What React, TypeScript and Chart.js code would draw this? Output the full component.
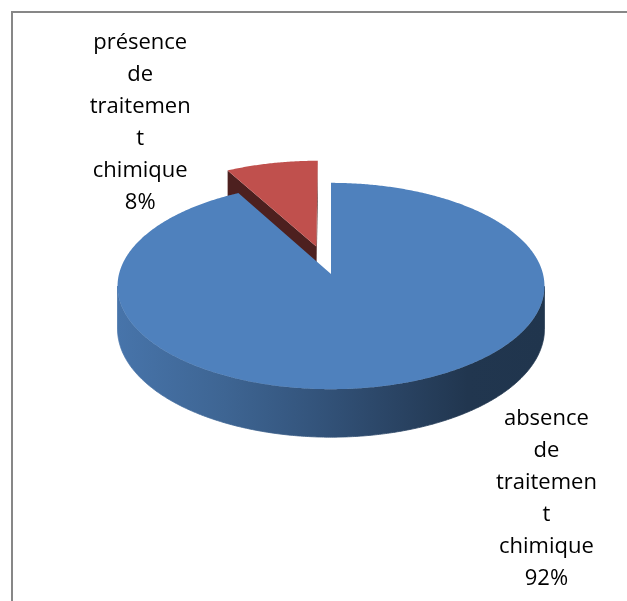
import React, { useEffect, useRef } from "react";
import { Chart, registerables } from "chart.js";

Chart.register(...registerables);

// ---- data ----
const categories = ["absence de traitement chimique", "présence de traitement chimique"];
const labelLines = [
  ["absence", "de", "traitemen", "t", "chimique"],
  ["présence", "de", "traitemen", "t", "chimique"],
];
const values = [92, 8];
const colors = ["#4f81bd", "#c0504d"];
const explode = [0, 244];

function shade(hex: string, f: number) {
  const n = parseInt(hex.slice(1), 16);
  const r = Math.round(((n >> 16) & 255) * f);
  const g = Math.round(((n >> 8) & 255) * f);
  const b = Math.round((n & 255) * f);
  return `rgb(${r},${g},${b})`;
}

const pie3d = {
  id: "pie3d",
  beforeDraw(chart: any) {
    const ctx = chart.ctx;
    ctx.save();
    ctx.fillStyle = "#878787";
    ctx.fillRect(11, 11, chart.width, 2);
    ctx.fillRect(11, 11, 2, chart.height);
    ctx.restore();
  },
  beforeDatasetsDraw(chart: any, _args: any, opts: any) {
    const meta = chart.getDatasetMeta(0);
    const arcs = meta.data;
    if (!arcs.length) return false;
    const ctx = chart.ctx;
    const cx = arcs[0].x, cy = arcs[0].y, R = arcs[0].outerRadius;
    const tilt = opts.tilt, c = opts.perspective, depth = opts.depth * R;
    const camV = R / c;
    const proj = (u: number, v: number, h: number) => {
      const w = 1 - (c * v) / R;
      return [cx + u / w, cy + (tilt * v + depth * h) / w];
    };
    const left = proj(-R * Math.sqrt(1 - c * c), c * R, 0)[0];
    const right = proj(R * Math.sqrt(1 - c * c), c * R, 0)[0];

    const slices = arcs.map((a: any, i: number) => {
      const mid = (a.startAngle + a.endAngle) / 2;
      const off = (a.options.offset || 0) / 4;
      return { a, i, mid, ox: Math.cos(mid) * off, oy: Math.sin(mid) * off };
    });
    slices.sort((p: any, q: any) => Math.sin(p.mid) - Math.sin(q.mid));

    ctx.save();
    for (const sl of slices) {
      const { a, i, ox, oy } = sl;
      const s = a.startAngle, e = a.endAngle;
      const base = colors[i];
      const n = Math.max(8, Math.ceil((e - s) / (Math.PI / 360)));
      const ang = (k: number) => s + ((e - s) * k) / n;
      const edge = (t: number, h: number) => proj(ox + R * Math.cos(t), oy + R * Math.sin(t), h);

      // outer wall
      const grad = ctx.createLinearGradient(left, 0, right, 0);
      const stops = opts.wallStops;
      const facs = opts.wallShades;
      stops.forEach((st: number, k: number) => grad.addColorStop(st, shade(base, facs[k])));
      let run: number[] = [];
      const flush = () => {
        if (run.length > 1) {
          ctx.beginPath();
          run.forEach((t, k) => {
            const p = edge(t, 0);
            k === 0 ? ctx.moveTo(p[0], p[1]) : ctx.lineTo(p[0], p[1]);
          });
          for (let k = run.length - 1; k >= 0; k--) {
            const p = edge(run[k], 1);
            ctx.lineTo(p[0], p[1]);
          }
          ctx.closePath();
          ctx.fillStyle = grad;
          ctx.fill();
          ctx.strokeStyle = grad;
          ctx.lineWidth = 0.8;
          ctx.stroke();
        }
        run = [];
      };
      for (let k = 0; k <= n; k++) {
        const t = ang(k);
        const px = ox + R * Math.cos(t), py = oy + R * Math.sin(t);
        const vis = -px * Math.cos(t) + (camV - py) * Math.sin(t) > 0;
        if (vis) run.push(t);
        else flush();
      }
      flush();

      // radial faces
      const faces = [
        { t: s, nx: Math.sin(s), ny: -Math.cos(s) },
        { t: e, nx: -Math.sin(e), ny: Math.cos(e) },
      ];
      for (const f of faces) {
        const d = -ox * f.nx + (camV - oy) * f.ny;
        if (d > 1e-3 * R && e - s < 2 * Math.PI - 1e-6) {
          const c0 = proj(ox, oy, 0), c1 = proj(ox, oy, 1);
          const e0 = edge(f.t, 0), e1 = edge(f.t, 1);
          ctx.beginPath();
          ctx.moveTo(c0[0], c0[1]);
          ctx.lineTo(e0[0], e0[1]);
          ctx.lineTo(e1[0], e1[1]);
          ctx.lineTo(c1[0], c1[1]);
          ctx.closePath();
          ctx.fillStyle = shade(base, opts.faceShade);
          ctx.fill();
        }
      }

      // top face
      ctx.beginPath();
      const c0 = proj(ox, oy, 0);
      ctx.moveTo(c0[0], c0[1]);
      for (let k = 0; k <= n; k++) {
        const p = edge(ang(k), 0);
        ctx.lineTo(p[0], p[1]);
      }
      ctx.closePath();
      ctx.fillStyle = base;
      ctx.fill();
    }
    ctx.restore();
    return false;
  },
  afterDraw(chart: any, _args: any, opts: any) {
    const meta = chart.getDatasetMeta(0);
    const arcs = meta.data;
    if (!arcs.length) return;
    const ctx = chart.ctx;
    const cx = arcs[0].x, cy = arcs[0].y, R = arcs[0].outerRadius;
    const total = values.reduce((p, q) => p + q, 0);
    ctx.save();
    ctx.fillStyle = "#000";
    ctx.font = opts.font;
    ctx.textAlign = "center";
    ctx.textBaseline = "alphabetic";
    arcs.forEach((_a: any, i: number) => {
      const lines = [...labelLines[i], Math.round((values[i] / total) * 100) + "%"];
      const lx = cx + opts.labelPos[i][0] * R;
      let ly = cy + opts.labelPos[i][1] * R;
      lines.forEach((ln) => {
        ctx.fillText(ln, lx, ly);
        ly += opts.lineHeight;
      });
    });
    ctx.restore();
  },
};

export default function App() {
  const ref = useRef<HTMLCanvasElement | null>(null);
  useEffect(() => {
    if (!ref.current) return;
    const chart = new Chart(ref.current, {
      type: "pie",
      data: {
        labels: categories,
        datasets: [
          {
            data: values,
            backgroundColor: colors,
            offset: explode,
            borderWidth: 0,
          },
        ],
      },
      options: {
        animation: false,
        responsive: false,
        events: [],
        radius: 212,
        layout: { padding: { left: 35, right: 0, top: 0, bottom: 53 } },
        plugins: {
          legend: { display: false },
          tooltip: { enabled: false },
          pie3d: {
            tilt: 0.48,
            perspective: 0.1165,
            depth: 0.2,
            faceShade: 0.4,
            wallStops: [0, 0.25, 0.45, 0.65, 0.82, 1],
            wallShades: [0.9, 0.78, 0.66, 0.53, 0.42, 0.41],
            labelPos: [
              [1.016, 0.714],
              [-0.9, -1.059],
            ],
            lineHeight: 32,
            font: "22px 'Open Sans'",
          },
        },
      } as any,
      plugins: [pie3d as any],
    });
    return () => chart.destroy();
  }, []);
  return (
    <div style={{ position: "fixed", left: 0, top: 0, width: 627, height: 601, background: "#fff" }}>
      <canvas ref={ref} width={627} height={601} style={{ display: "block" }} />
    </div>
  );
}
